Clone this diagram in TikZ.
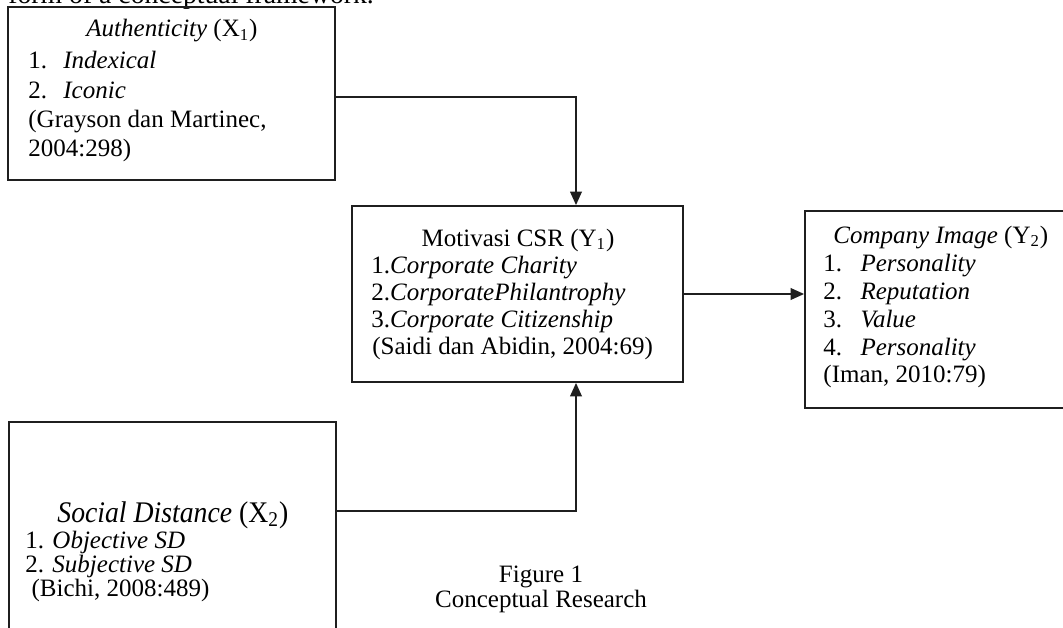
\documentclass[tikz,border=0pt]{standalone}
\usepackage{fontspec}
\setmainfont{Liberation Serif}
\usetikzlibrary{arrows.meta,fit}
\begin{document}
\begin{tikzpicture}[x=0.48pt,y=-0.48pt,
  box/.style={draw=black!88,line width=0.85pt,inner sep=0pt},
  conn/.style={draw=black!88,line width=0.85pt},
  arr/.style={conn,-{Triangle[length=6.5pt,width=5.6pt]}},
  txt/.style={anchor=base west,inner sep=0pt,font=\fontsize{12}{14}\selectfont},
  ttl/.style={anchor=base,inner sep=0pt,font=\fontsize{12}{14}\selectfont}]
\useasboundingbox (0,0) rectangle (1063,628);
\clip (0,0) rectangle (1063,628);
% partial line of running text above the figure
\node[txt,font=\fontsize{13.3}{15}\selectfont] (intro) at (8,4) {form of a conceptual framework.};
% box corners
\coordinate (b1a) at (8,7);    \coordinate (b1b) at (335,180);
\coordinate (mda) at (352,206); \coordinate (mdb) at (683,382);
\coordinate (cpa) at (805,211); \coordinate (cpb) at (1090,408);
\coordinate (x2a) at (9,422);  \coordinate (x2b) at (336,700);
\node[box,fit=(b1a)(b1b)] (auth) {};
\node[box,fit=(mda)(mdb)] (mid) {};
\node[box,fit=(cpa)(cpb)] (comp) {};
\node[box,fit=(x2a)(x2b)] (soc) {};
% box 1 text
\node[ttl] (a0) at (172,37) {\textit{Authenticity} (X\textsubscript{1})};
\node[txt] (a1) at (28,69) {\makebox[16.8pt][l]{1.}\textit{Indexical}};
\node[txt] (a2) at (28,99) {\makebox[16.8pt][l]{2.}\textit{Iconic}};
\node[txt] (a3) at (28,128) {(Grayson dan Martinec,};
\node[txt] (a4) at (28,156) {2004:298)};
% middle box text
\node[ttl] (m0) at (518,246) {Motivasi CSR (Y\textsubscript{1})};
\node[txt] (m1) at (371,273) {1.\textit{Corporate Charity}};
\node[txt] (m2) at (371,300) {2.\textit{CorporatePhilantrophy}};
\node[txt] (m3) at (371,327) {3.\textit{Corporate Citizenship}};
\node[txt] (m4) at (372,354) {(Saidi dan Abidin, 2004:69)};
% company box text
\node[txt] (c0) at (833,243) {\textit{Company Image} (Y\textsubscript{2})};
\node[txt] (c1) at (823,271) {\makebox[17.8pt][l]{1.}\textit{Personality}};
\node[txt] (c2) at (823,299) {\makebox[17.8pt][l]{2.}\textit{Reputation}};
\node[txt] (c3) at (823,327) {\makebox[17.8pt][l]{3.}\textit{Value}};
\node[txt] (c4) at (823,355) {\makebox[17.8pt][l]{4.}\textit{Personality}};
\node[txt] (c5) at (823,382) {(Iman, 2010:79)};
% social distance box text
\node[txt,yscale=1.08,font=\fontsize{13.3}{15}\selectfont] (s0) at (57,522) {\textit{Social Distance} (X\textsubscript{2})};
\node[txt] (s1) at (25,548) {1. \textit{Objective SD}};
\node[txt] (s2) at (25,572) {2. \textit{Subjective SD}};
\node[txt] (s3) at (25,596) {\ (Bichi, 2008:489)};
% caption
\node[ttl] (f1) at (541,582) {Figure 1};
\node[ttl] (f2) at (541,607) {Conceptual Research};
% connectors
\coordinate (j1) at (576,97);
\coordinate (j3) at (576,511);
\draw[arr] (auth.east |- j1) -- (j1) -- (j1 |- mid.north);
\draw[arr] (mid.east) -- (mid.east -| comp.west);
\draw[arr] (soc.east |- j3) -- (j3) -- (j3 |- mid.south);
\end{tikzpicture}
\end{document}
